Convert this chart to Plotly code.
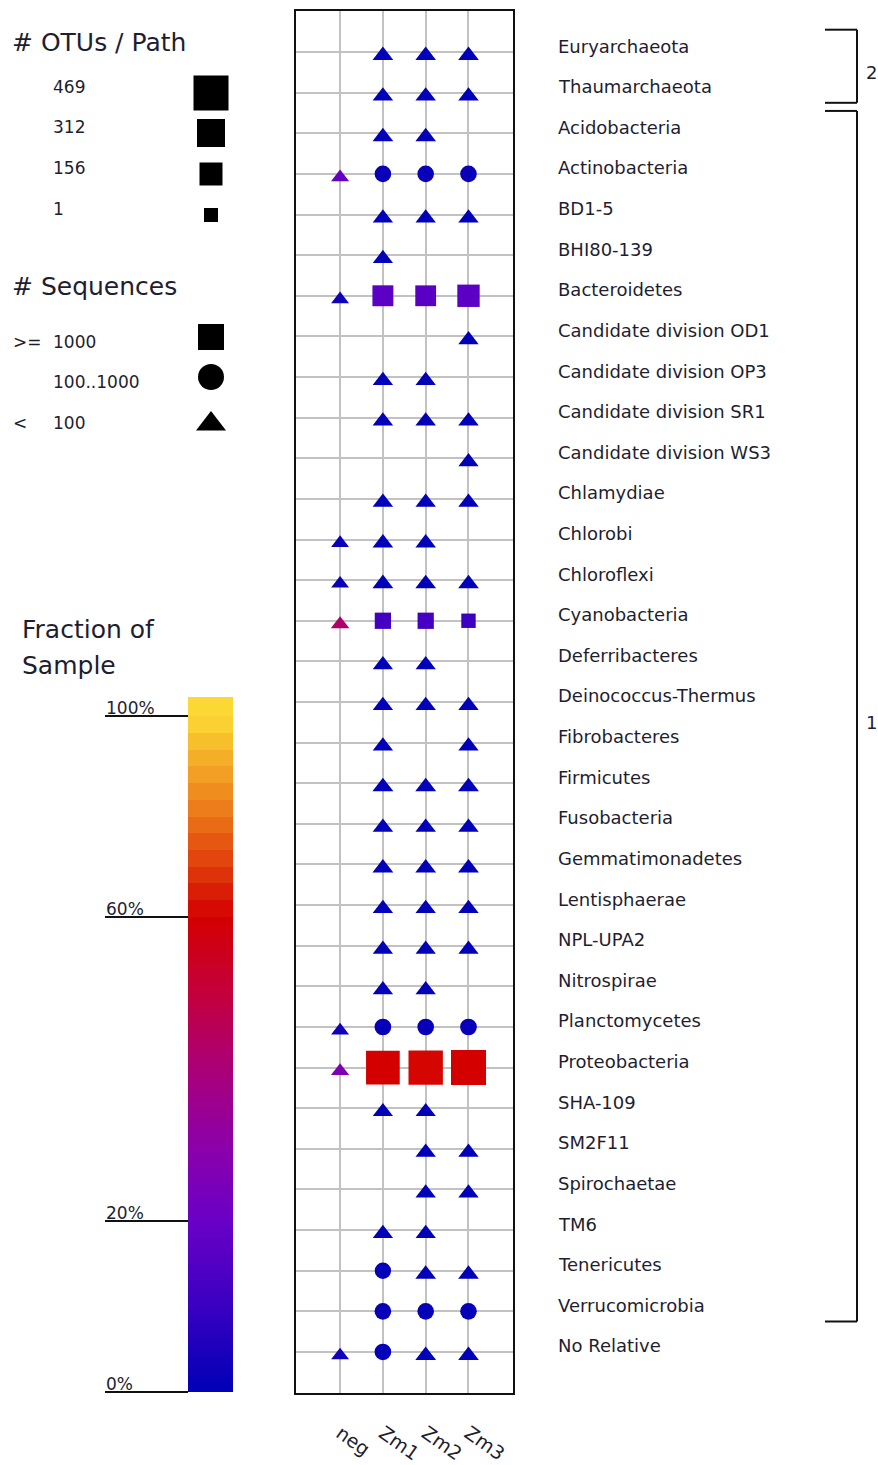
import numpy as np
import plotly.graph_objects as go

W, H = 878, 1465
FONT = "DejaVu Sans"
INK = "#1e1e30"

# ---------------------------------------------------------------- data
PHYLA = [
    "Euryarchaeota", "Thaumarchaeota", "Acidobacteria", "Actinobacteria",
    "BD1-5", "BHI80-139", "Bacteroidetes", "Candidate division OD1",
    "Candidate division OP3", "Candidate division SR1", "Candidate division WS3",
    "Chlamydiae", "Chlorobi", "Chloroflexi", "Cyanobacteria", "Deferribacteres",
    "Deinococcus-Thermus", "Fibrobacteres", "Firmicutes", "Fusobacteria",
    "Gemmatimonadetes", "Lentisphaerae", "NPL-UPA2", "Nitrospirae",
    "Planctomycetes", "Proteobacteria", "SHA-109", "SM2F11", "Spirochaetae",
    "TM6", "Tenericutes", "Verrucomicrobia", "No Relative",
]
SAMPLES = ["neg", "Zm1", "Zm2", "Zm3"]

# phylum -> (sequences, OTUs, fraction of sample)
NEG = {
    "Actinobacteria": (48, 10, 0.19),
    "Bacteroidetes": (9, 8, 0.03),
    "Chlorobi": (8, 7, 0.02),
    "Chloroflexi": (8, 7, 0.02),
    "Cyanobacteria": (95, 16, 0.42),
    "Planctomycetes": (9, 8, 0.03),
    "Proteobacteria": (66, 12, 0.26),
    "No Relative": (9, 8, 0.03),
}
ZM1 = {
    "Euryarchaeota": (70, 46, 0.003),
    "Thaumarchaeota": (64, 44, 0.003),
    "Acidobacteria": (72, 46, 0.003),
    "Actinobacteria": (420, 45, 0.020),
    "BD1-5": (60, 42, 0.003),
    "BHI80-139": (55, 40, 0.002),
    "Bacteroidetes": (3400, 120, 0.170),
    "Candidate division OP3": (58, 42, 0.003),
    "Candidate division SR1": (66, 44, 0.003),
    "Chlamydiae": (62, 43, 0.003),
    "Chlorobi": (70, 45, 0.003),
    "Chloroflexi": (80, 48, 0.004),
    "Cyanobacteria": (2400, 40, 0.120),
    "Deferribacteres": (52, 40, 0.002),
    "Deinococcus-Thermus": (60, 42, 0.003),
    "Fibrobacteres": (56, 41, 0.002),
    "Firmicutes": (85, 50, 0.004),
    "Fusobacteria": (62, 43, 0.003),
    "Gemmatimonadetes": (82, 48, 0.004),
    "Lentisphaerae": (60, 42, 0.003),
    "NPL-UPA2": (54, 40, 0.002),
    "Nitrospirae": (58, 41, 0.003),
    "Planctomycetes": (300, 48, 0.015),
    "Proteobacteria": (12600, 440, 0.600),
    "SHA-109": (54, 40, 0.002),
    "TM6": (56, 41, 0.002),
    "Tenericutes": (150, 42, 0.008),
    "Verrucomicrobia": (260, 46, 0.013),
    "No Relative": (180, 46, 0.009),
}
ZM2 = {
    "Euryarchaeota": (68, 45, 0.003),
    "Thaumarchaeota": (62, 44, 0.003),
    "Acidobacteria": (70, 45, 0.003),
    "Actinobacteria": (390, 45, 0.019),
    "BD1-5": (58, 42, 0.003),
    "Bacteroidetes": (3300, 118, 0.165),
    "Candidate division OP3": (56, 41, 0.002),
    "Candidate division SR1": (64, 44, 0.003),
    "Chlamydiae": (60, 42, 0.003),
    "Chlorobi": (66, 44, 0.003),
    "Chloroflexi": (76, 47, 0.004),
    "Cyanobacteria": (2500, 40, 0.125),
    "Deferribacteres": (50, 40, 0.002),
    "Deinococcus-Thermus": (58, 42, 0.003),
    "Firmicutes": (84, 49, 0.004),
    "Fusobacteria": (60, 43, 0.003),
    "Gemmatimonadetes": (80, 48, 0.004),
    "Lentisphaerae": (58, 42, 0.003),
    "NPL-UPA2": (52, 40, 0.002),
    "Nitrospirae": (56, 41, 0.002),
    "Planctomycetes": (280, 47, 0.014),
    "Proteobacteria": (12900, 455, 0.610),
    "SHA-109": (52, 40, 0.002),
    "SM2F11": (56, 41, 0.002),
    "Spirochaetae": (58, 42, 0.003),
    "TM6": (54, 40, 0.002),
    "Tenericutes": (78, 46, 0.004),
    "Verrucomicrobia": (240, 46, 0.012),
    "No Relative": (88, 47, 0.004),
}
ZM3 = {
    "Euryarchaeota": (70, 46, 0.003),
    "Thaumarchaeota": (64, 44, 0.003),
    "Actinobacteria": (400, 45, 0.020),
    "BD1-5": (60, 42, 0.003),
    "Bacteroidetes": (3600, 145, 0.175),
    "Candidate division OD1": (56, 41, 0.002),
    "Candidate division SR1": (66, 44, 0.003),
    "Candidate division WS3": (54, 40, 0.002),
    "Chlamydiae": (62, 43, 0.003),
    "Chloroflexi": (78, 47, 0.004),
    "Cyanobacteria": (1800, 8, 0.110),
    "Deinococcus-Thermus": (60, 42, 0.003),
    "Fibrobacteres": (56, 41, 0.002),
    "Firmicutes": (84, 49, 0.004),
    "Fusobacteria": (62, 43, 0.003),
    "Gemmatimonadetes": (80, 48, 0.004),
    "Lentisphaerae": (60, 42, 0.003),
    "NPL-UPA2": (54, 40, 0.002),
    "Planctomycetes": (290, 48, 0.015),
    "Proteobacteria": (13100, 469, 0.600),
    "SM2F11": (56, 41, 0.002),
    "Spirochaetae": (58, 42, 0.003),
    "Tenericutes": (80, 46, 0.004),
    "Verrucomicrobia": (250, 46, 0.012),
    "No Relative": (86, 47, 0.004),
}
SAMPLE_DATA = [NEG, ZM1, ZM2, ZM3]

# bracketed groups of rows: (label, first phylum, last phylum)
GROUPS = [("2", "Euryarchaeota", "Thaumarchaeota"),
          ("1", "Acidobacteria", "Verrucomicrobia")]

OTU_KEYS = [469, 312, 156, 1]
SEQ_PREFIX = [">=", "", "<"]
SEQ_TEXT = ["1000", "100..1000", "100"]
SEQ_EXAMPLES = [1000, 100, 1]
COLOR_TICKS = [0, 20, 60, 100]

# ---------------------------------------------------------------- scales
CSCALE = [
    [0.0, "#0000b8"], [0.1, "#3800c0"], [0.2, "#6a00c6"], [0.3, "#8c00a8"],
    [0.4, "#aa0078"], [0.5, "#c4003c"], [0.6, "#d40000"], [0.7, "#e03c0c"],
    [0.8, "#ec7418"], [0.9, "#f4a626"], [1.0, "#fcd834"],
]

# triangles are drawn a little larger so their area reads like the others
SYMBOL_SCALE = {"square": 1.0, "circle": 1.0, "triangle-up": 1.08}
# shift that centres a triangle's box on its row line
SYMBOL_STANDOFF = {"square": 0, "circle": 0, "triangle-up": 3.5}


def seq_symbol(n):
    if n >= 1000:
        return "square"
    if n >= 100:
        return "circle"
    return "triangle-up"


def otu_size(n):
    return float(np.interp(n, [1, 156, 312, 469], [14, 23, 28, 35]))


def bar_pos(f):
    # warped position (px from the bar bottom) of a sample fraction
    return np.interp(f, [0.0, 0.2, 0.6, 1.0], [1, 172, 476, 677])


BAR_TOP = 696


def px_x(x):
    return x / W


def px_y(y):
    return 1 - y / H


fig = go.Figure()

# ---------------------------------------------------------------- grid of marks
for j, data in enumerate(SAMPLE_DATA):
    names = [p for p in PHYLA if p in data]
    symbols = [seq_symbol(data[p][0]) for p in names]
    fig.add_trace(go.Scatter(
        x=[j] * len(names),
        y=[PHYLA.index(p) for p in names],
        mode="markers",
        marker=dict(
            symbol=symbols,
            size=[otu_size(data[p][1]) * SYMBOL_SCALE[s] for p, s in zip(names, symbols)],
            standoff=[SYMBOL_STANDOFF[s] for s in symbols],
            color=[data[p][2] for p in names],
            colorscale=CSCALE, cmin=0, cmax=1, opacity=1,
            line=dict(width=0),
        ),
        text=names, hoverinfo="text+x",
        xaxis="x", yaxis="y",
    ))

for i, name in enumerate(PHYLA):
    fig.add_annotation(x=px_x(556), xref="paper", y=i, yref="y",
                       text=name, showarrow=False, xanchor="left",
                       yanchor="middle", yshift=6,
                       font=dict(family=FONT, size=18, color=INK))

# group brackets
shapes = []
for label, first, last in GROUPS:
    top = PHYLA.index(first) - 0.55
    bot = PHYLA.index(last) + 0.25
    line = dict(color="#111", width=2)
    shapes += [
        dict(type="line", xref="paper", yref="y", x0=px_x(825), x1=px_x(857), y0=top, y1=top, line=line),
        dict(type="line", xref="paper", yref="y", x0=px_x(857), x1=px_x(857), y0=top, y1=bot, line=line),
        dict(type="line", xref="paper", yref="y", x0=px_x(825), x1=px_x(857), y0=bot, y1=bot, line=line),
    ]
    mid = (PHYLA.index(first) + PHYLA.index(last)) / 2
    fig.add_annotation(x=px_x(864), xref="paper", y=mid, yref="y", text=label,
                       showarrow=False, xanchor="left", yanchor="middle",
                       font=dict(family=FONT, size=18, color=INK))

# ---------------------------------------------------------------- colour bar
# fine steps through the cool half, coarser visible steps through the warm half
edges = np.round(np.r_[np.arange(0, 0.6, 0.01), np.linspace(0.6, 1.0, 13)], 4)
mids = (edges[:-1] + edges[1:]) / 2
ys = list(bar_pos(edges)) + [BAR_TOP]
zs = [[m] for m in mids] + [[1.0]]
fig.add_trace(go.Heatmap(
    x=[0, 1], y=ys, z=zs, colorscale=CSCALE, zmin=0, zmax=1,
    showscale=False, hoverinfo="skip", xaxis="x2", yaxis="y2",
))
for t in COLOR_TICKS:
    yv = float(bar_pos(t / 100))
    shapes.append(dict(type="line", xref="paper", yref="y2",
                       x0=px_x(105), x1=px_x(188), y0=yv, y1=yv,
                       line=dict(color="#111", width=2)))
    fig.add_annotation(x=px_x(104), xref="paper", y=yv, yref="y2",
                       text=f"{t}%", showarrow=False, xanchor="left",
                       yanchor="bottom", yshift=-4,
                       font=dict(family=FONT, size=17, color=INK))

# ---------------------------------------------------------------- legends
title_font = dict(family=FONT, size=25, color=INK)
item_font = dict(family=FONT, size=17, color=INK)


def page_text(x, y, text, font, anchor="left"):
    fig.add_annotation(x=px_x(x), y=px_y(y), xref="paper", yref="paper",
                       text=text, showarrow=False, xanchor=anchor,
                       yanchor="middle", font=font)


# legend marker panel: pixel coordinates inside a small box at the left
LEG_X0, LEG_X1, LEG_Y0, LEG_Y1 = 150, 270, 60, 450

page_text(10, 43, "# OTUs / Path", title_font)
otu_rows = [93, 133, 174, 215]
for k, y in zip(OTU_KEYS, otu_rows):
    page_text(51, y - 6, str(k), item_font)
fig.add_trace(go.Scatter(
    x=[211] * len(OTU_KEYS), y=otu_rows, mode="markers",
    marker=dict(symbol="square", color="#000000", opacity=1,
                size=[otu_size(k) for k in OTU_KEYS], line=dict(width=0)),
    hoverinfo="skip", xaxis="x3", yaxis="y3",
))

page_text(10, 287, "# Sequences", title_font)
seq_rows = [337, 377, 418]
for pre, txt, y in zip(SEQ_PREFIX, SEQ_TEXT, seq_rows):
    if pre:
        page_text(11, y + 5, pre, item_font)
    page_text(51, y + 5, txt, item_font)
fig.add_trace(go.Scatter(
    x=[211] * len(SEQ_EXAMPLES),
    y=[337, 377, 424], mode="markers",
    marker=dict(symbol=[seq_symbol(n) for n in SEQ_EXAMPLES], color="#000000",
                opacity=1, size=26, line=dict(width=0)),
    hoverinfo="skip", xaxis="x3", yaxis="y3",
))

page_text(20, 630, "Fraction of", title_font)
page_text(20, 665, "Sample", title_font)

# ---------------------------------------------------------------- layout
grid = dict(showgrid=True, gridcolor="#c2c2c2", gridwidth=1.6,
            zeroline=True, zerolinecolor="#c2c2c2", zerolinewidth=1.6,
            showline=True, linecolor="#111", linewidth=2, mirror=True,
            ticks="", fixedrange=True)

fig.update_layout(
    width=W, height=H,
    margin=dict(l=0, r=0, t=0, b=0),
    paper_bgcolor="white", plot_bgcolor="rgba(0,0,0,0)",
    showlegend=False,
    xaxis=dict(domain=[px_x(296), px_x(513)], range=[-1.03, 4.04],
               tickmode="array", tickvals=list(range(len(SAMPLES))),
               ticktext=SAMPLES, tickangle=35, ticklabelstandoff=20,
               tickfont=dict(family=FONT, size=19, color=INK),
               anchor="y", **grid),
    yaxis=dict(domain=[px_y(1393), px_y(11)], range=[33.01, -1.01],
               tickmode="array", tickvals=list(range(len(PHYLA))),
               showticklabels=False, anchor="x", **grid),
    xaxis2=dict(domain=[px_x(188), px_x(233)], range=[0, 1], visible=False,
                anchor="y2", fixedrange=True),
    yaxis2=dict(domain=[px_y(1393), px_y(697)], range=[0, BAR_TOP],
                visible=False, anchor="x2", fixedrange=True),
    xaxis3=dict(domain=[px_x(LEG_X0), px_x(LEG_X1)], range=[LEG_X0, LEG_X1],
                visible=False, anchor="y3", fixedrange=True),
    yaxis3=dict(domain=[px_y(LEG_Y1), px_y(LEG_Y0)], range=[LEG_Y1, LEG_Y0],
                visible=False, anchor="x3", fixedrange=True),
    shapes=shapes,
    font=dict(family=FONT, color=INK),
)

fig.write_html("out.html")
